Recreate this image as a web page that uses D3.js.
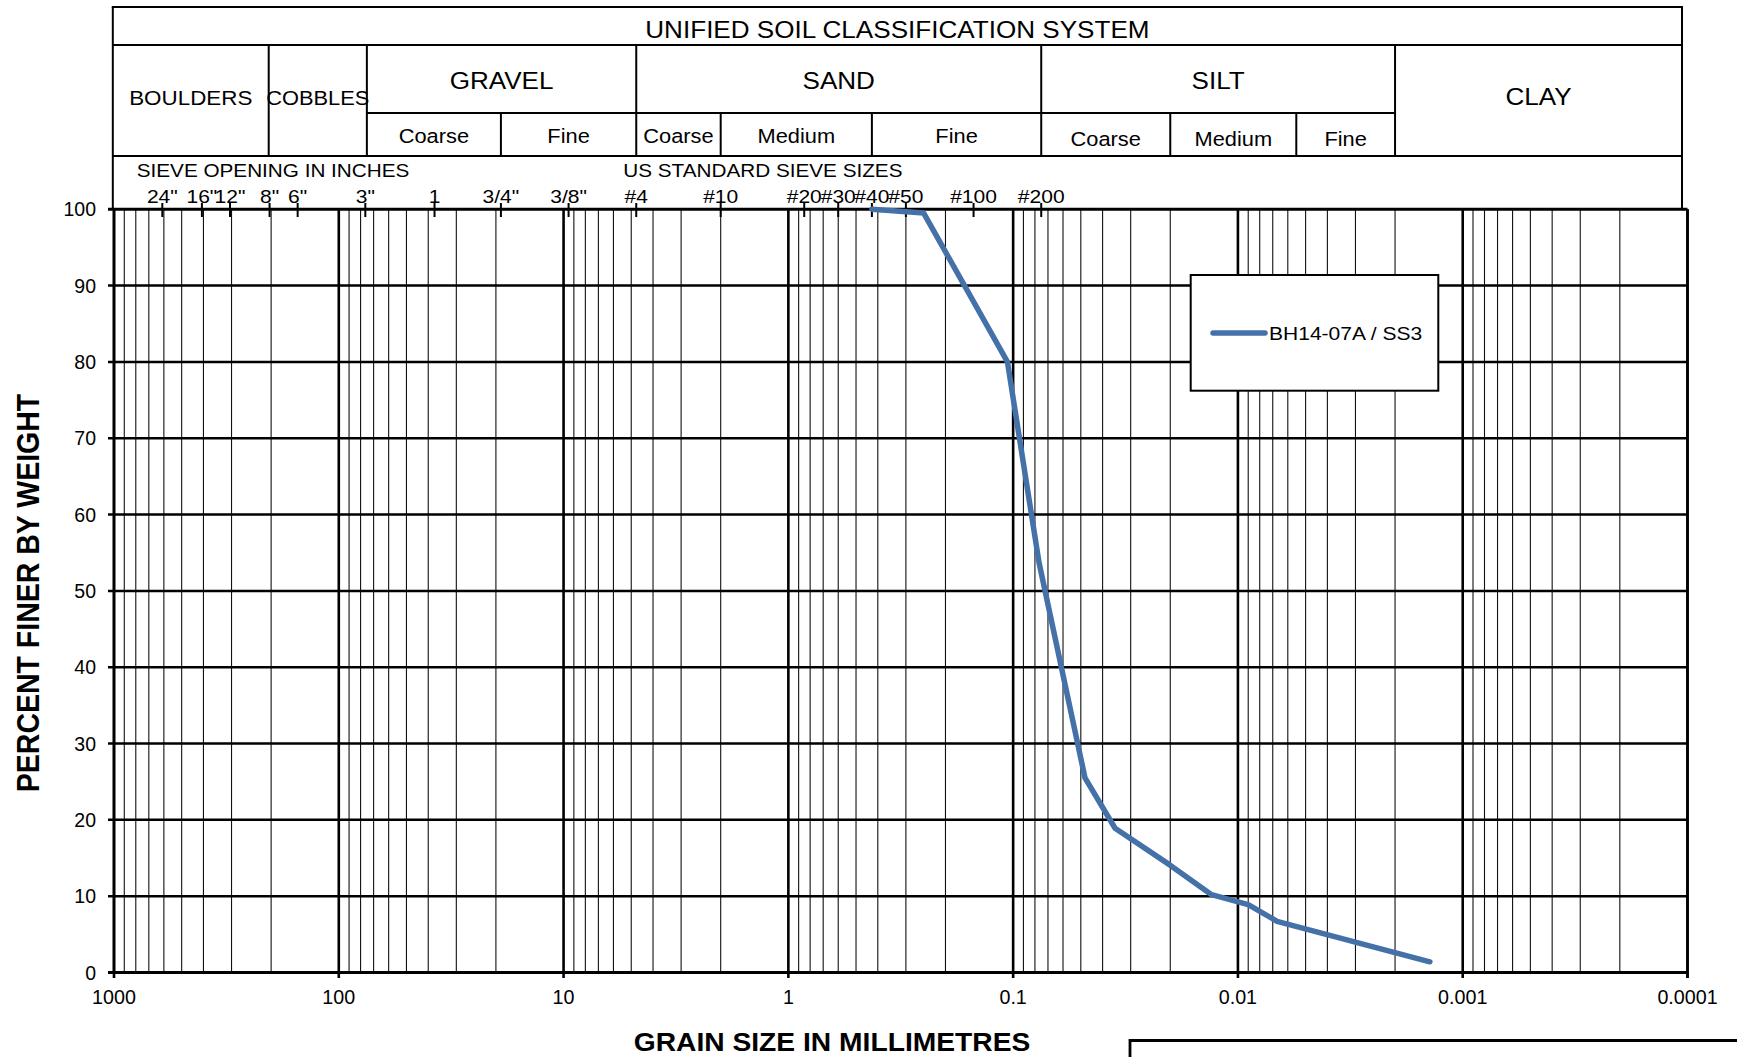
<!DOCTYPE html>
<html><head><meta charset="utf-8">
<script src="https://cdn.jsdelivr.net/npm/d3@7"></script>
<style>html,body{margin:0;padding:0;background:#fff;} svg{display:block;font-family:"Liberation Sans",Arial,sans-serif;}</style>
</head><body><svg id="chart" width="1737" height="1057"></svg>
<script>
// ---------------- data ----------------
const grainSize    = [0.425, 0.25, 0.106, 0.0767, 0.0479, 0.0352, 0.0201, 0.0131, 0.0090, 0.0067, 0.0014];
const percentFiner = [100,   99.5, 80.0,  53.7,   25.5,   18.9,   14.1,   10.2,   8.9,    6.7,    1.4];
const seriesName = "BH14-07A / SS3";

const xTicks      = [1000, 100, 10, 1, 0.1, 0.01, 0.001, 0.0001];
const xTickLabels = ["1000", "100", "10", "1", "0.1", "0.01", "0.001", "0.0001"];
const yTicks      = [0, 10, 20, 30, 40, 50, 60, 70, 80, 90, 100];

const classNames  = ["BOULDERS", "COBBLES", "GRAVEL", "SAND", "SILT", "CLAY"];
const classBounds = [205, 75, 4.75, 0.075, 0.002];           // mm, dividers between classes
const subNames    = ["Coarse", "Fine", "Coarse", "Medium", "Fine", "Coarse", "Medium", "Fine"];
const subBounds   = [75, 19, 4.75, 2, 0.425, 0.075, 0.02, 0.0055, 0.002]; // mm

const inchLabels  = ['24"', '16"', '12"', '8"', '6"', '3"', '1', '3/4"', '3/8"'];
const inchSizes   = [609.6, 406.4, 304.8, 203.2, 152.4, 76.2, 37.5, 19.0, 9.5];
const sieveLabels = ["#4", "#10", "#20", "#30", "#40", "#50", "#100", "#200"];
const sieveSizes  = [4.75, 2.0, 0.85, 0.6, 0.425, 0.3, 0.15, 0.075];

// ---------------- layout ----------------
const L = 114, R = 1687.5, T = 209.3, B = 972.5;
const HL = 112.8, HR = 1682, HT = 7, HTitle = 45, HSub = 113, HCat = 156;
const SX = 1.12; // horizontal text stretch of the original
const lineColor = "#4571a9";

const svg = d3.select("#chart");
const x = d3.scaleLog().domain([1000, 0.0001]).range([L, R]);
const y = d3.scaleLinear().domain([0, 100]).range([B, T]);

function label(x0, y0, str, o = {}) {
  const sx = o.sx === undefined ? SX : o.sx;
  let tr = `translate(${x0},${y0}) scale(${sx},1)` + (o.rotate ? ` rotate(${o.rotate})` : "");
  return svg.append("text").attr("transform", tr)
    .attr("text-anchor", o.anchor || "middle")
    .attr("font-size", o.size || 20)
    .attr("font-weight", o.weight || "normal")
    .attr("fill", "#000").text(str);
}
function line(x1, y1, x2, y2, w, c) {
  svg.append("line").attr("x1", x1).attr("y1", y1).attr("x2", x2).attr("y2", y2)
    .attr("stroke", c || "#000").attr("stroke-width", w || 1);
}

// ---------------- grid ----------------
const minor = [];
for (let e = -4; e <= 2; e++) for (let k = 2; k <= 9; k++) minor.push(k * Math.pow(10, e));
svg.append("g").selectAll("line").data(minor).join("line")
  .attr("x1", d => x(d)).attr("x2", d => x(d)).attr("y1", T).attr("y2", B)
  .attr("stroke", "#111").attr("stroke-width", 1.1);

// decade lines with small ticks below
svg.append("g").selectAll("line").data(xTicks).join("line")
  .attr("x1", d => x(d)).attr("x2", d => x(d)).attr("y1", T).attr("y2", B + 5.5)
  .attr("stroke", "#000").attr("stroke-width", 2.6);

// horizontal lines with ticks to the left
svg.append("g").selectAll("line").data(yTicks).join("line")
  .attr("x1", L - 6).attr("x2", R).attr("y1", d => y(d)).attr("y2", d => y(d))
  .attr("stroke", "#000").attr("stroke-width", d => (d === 0 || d === 100) ? 3 : 2.5);

// frame
line(L, T, L, B, 2.6); line(R, T, R, B + 5.5, 2.6);

// tick labels
svg.append("g").selectAll("text").data(yTicks).join("text")
  .attr("x", 96).attr("y", d => y(d) + 7).attr("text-anchor", "end")
  .attr("font-size", 19.5).text(d => d);
svg.append("g").selectAll("text").data(xTicks).join("text")
  .attr("x", d => x(d)).attr("y", 1004).attr("text-anchor", "middle")
  .attr("font-size", 19.7).text((d, i) => xTickLabels[i]);

// axis titles
label(832, 1051, "GRAIN SIZE IN MILLIMETRES", { size: 25.2, weight: "bold" });
label(38.5, 593, "PERCENT FINER BY WEIGHT", { size: 28.5, weight: "bold", rotate: -90 });

// ---------------- header table ----------------
line(HL - 1, HT, HR + 1, HT, 2.2);
line(HL, HT, HL, T, 2);
line(HR, HT, HR, T, 2);
line(HL, HTitle, HR, HTitle, 2);
line(HL, HCat, HR, HCat, 2);
line(x(subBounds[0]), HSub, x(subBounds[subBounds.length - 1]), HSub, 2);
classBounds.forEach(b => line(x(b), HTitle, x(b), HCat, 2));
subBounds.slice(1, -1).forEach(b => { if (!classBounds.includes(b)) line(x(b), HSub, x(b), HCat, 2); });

label((HL + HR) / 2, 37.5, "UNIFIED SOIL CLASSIFICATION SYSTEM", { size: 23.3 });

const edges = [HL, ...classBounds.map(b => x(b)), HR];
classNames.forEach((n, i) => {
  const cx = (edges[i] + edges[i + 1]) / 2;
  const hasSub = (n === "GRAVEL" || n === "SAND" || n === "SILT");
  const size = (n === "BOULDERS") ? 20 : (n === "COBBLES" ? 19.5 : 23.3);
  label(cx, hasSub ? 88.5 : 105, n, { size });
});
subNames.forEach((n, i) => {
  const cx = (x(subBounds[i]) + x(subBounds[i + 1])) / 2;
  const silt = subBounds[i] <= 0.075;
  label(cx, silt ? 146 : 142.5, n, { size: 19.5 });
});

// sieve row
label(136.7, 177.3, "SIEVE OPENING IN INCHES", { size: 18.5, anchor: "start" });
label(623.3, 177.3, "US STANDARD SIEVE SIZES", { size: 18.5, anchor: "start" });

const allSieves = inchSizes.map((s, i) => ({ s, l: inchLabels[i] }))
  .concat(sieveSizes.map((s, i) => ({ s, l: sieveLabels[i] })));
allSieves.forEach(d => {
  line(x(d.s), 203, x(d.s), 217, 2);
  label(x(d.s), 202.5, d.l, { size: 18.8 });
});

// ---------------- curve ----------------
const pts = grainSize.map((g, i) => [g, percentFiner[i]]);
svg.append("path").datum(pts)
  .attr("d", d3.line().x(d => x(d[0])).y(d => y(d[1])))
  .attr("fill", "none").attr("stroke", lineColor).attr("stroke-width", 5.5)
  .attr("stroke-linejoin", "round").attr("stroke-linecap", "round");

// ---------------- legend ----------------
svg.append("rect").attr("x", 1190.7).attr("y", 275).attr("width", 247.6).attr("height", 115.7)
  .attr("fill", "#fff").attr("stroke", "#000").attr("stroke-width", 2);
svg.append("line").attr("x1", 1213).attr("x2", 1265).attr("y1", 333).attr("y2", 333)
  .attr("stroke", lineColor).attr("stroke-width", 5.5).attr("stroke-linecap", "round");
label(1269, 339.5, seriesName, { size: 18.8, anchor: "start" });

// ---------------- title block corner (bottom right) ----------------
svg.append("path").attr("d", `M1130,1060 L1130,1040.5 L1740,1040.5`)
  .attr("fill", "none").attr("stroke", "#000").attr("stroke-width", 2.8);
</script></body></html>
